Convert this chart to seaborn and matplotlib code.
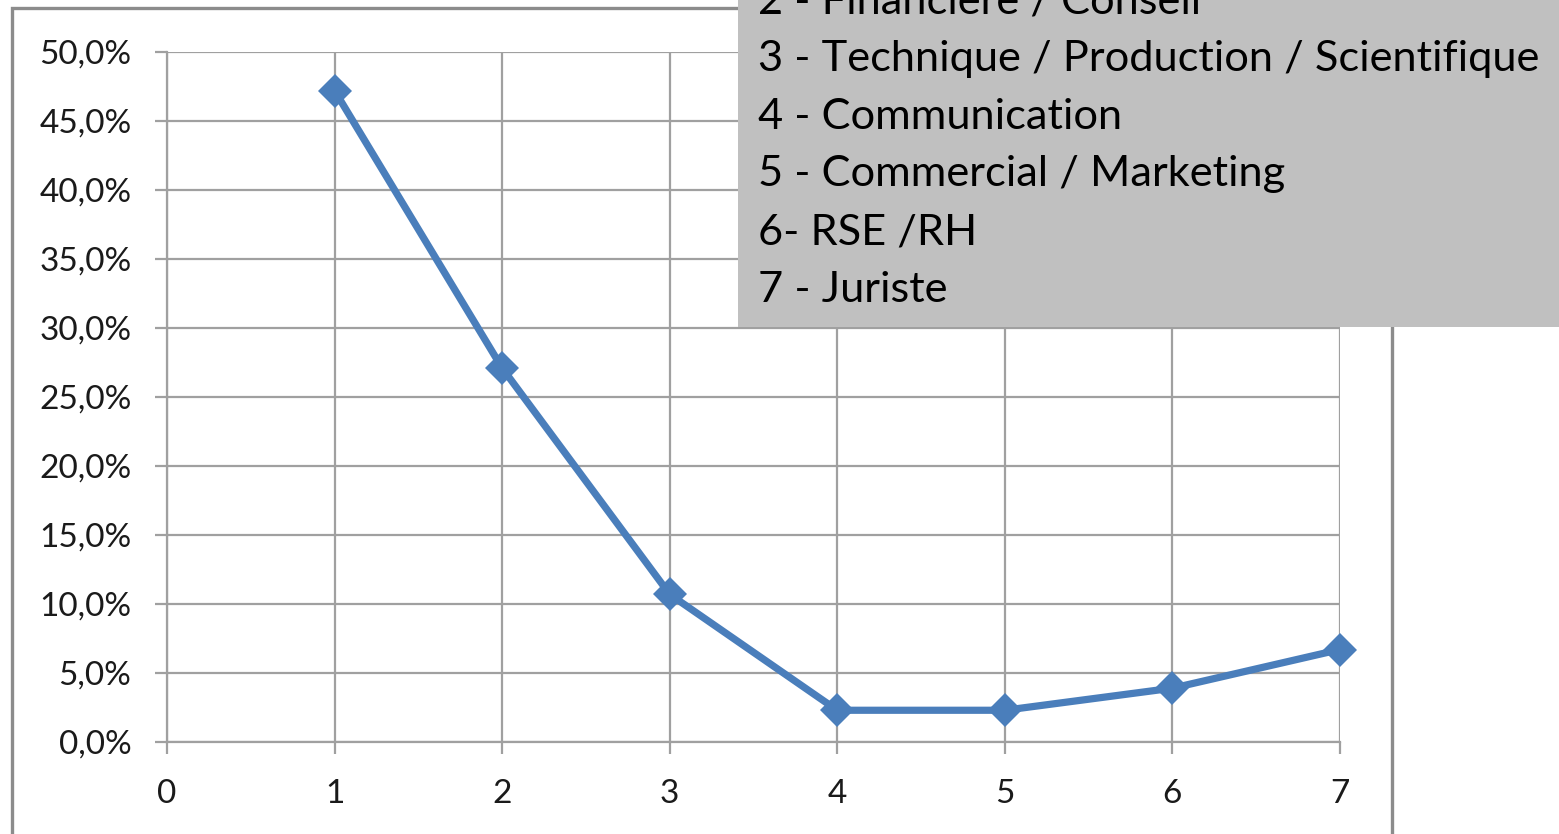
import matplotlib
matplotlib.use("Agg")
import matplotlib.pyplot as plt
import matplotlib.patches as patches
import matplotlib.ticker as mticker
import seaborn as sns
import pandas as pd

# valeurs
categories = [1, 2, 3, 4, 5, 6, 7]
pourcentages = [0.472, 0.271, 0.107, 0.023, 0.023, 0.039, 0.067]
legende = [
    "2 - Financière / Conseil",
    "3 - Technique / Production / Scientifique",
    "4 - Communication",
    "5 - Commercial / Marketing",
    "6- RSE /RH",
    "7 - Juriste",
]

df = pd.DataFrame({"cat": categories, "pct": pourcentages})

sns.set_style("white")
plt.rcParams["font.family"] = ["Lato", "DejaVu Sans"]

W, H = 1559, 834
fig = plt.figure(figsize=(W / 100, H / 100), dpi=100)
ax = fig.add_axes([167 / W, 1 - 742 / H, (1340 - 167) / W, (742 - 52) / H])

grid_col = "#A0A0A0"
sns.lineplot(data=df, x="cat", y="pct", ax=ax, color="#4A7EBB", linewidth=5.2,
             marker="D", markersize=17, markeredgewidth=0, clip_on=False, zorder=5)

ax.set_xlim(0, 7)
ax.set_ylim(0, 0.5)
ax.set_xticks(range(0, 8))
ax.set_yticks([i * 0.05 for i in range(11)])
ax.yaxis.set_major_formatter(mticker.FuncFormatter(lambda v, p: f"{v * 100:.1f}%".replace(".", ",")))
ax.grid(True, color=grid_col, linewidth=1.6)
for s in ["top", "right"]:
    ax.spines[s].set_visible(False)
for s in ["left", "bottom"]:
    ax.spines[s].set_color(grid_col)
    ax.spines[s].set_linewidth(1.6)
ax.tick_params(axis="both", direction="out", length=8.6, width=1.6, color=grid_col,
               labelsize=24, labelcolor="#1A1A1A", left=True, bottom=True)
ax.tick_params(axis="x", pad=18)
ax.tick_params(axis="y", pad=17)
ax.set_xlabel("")
ax.set_ylabel("")
ax.set_axisbelow(True)

# cadre de la zone de graphique
fig.patches.append(patches.Rectangle((12 / W, -0.05), (1392 - 12) / W, 1.05 - 8 / H,
                                     transform=fig.transFigure, fill=False,
                                     edgecolor="#8C8C8C", linewidth=2.4, zorder=0))

# encadré gris de la légende
fig.patches.append(patches.Rectangle((738 / W, 1 - 327 / H), 1 - 738 / W, 327 / H,
                                     transform=fig.transFigure, facecolor="#C0C0C0",
                                     edgecolor="none", zorder=10))
for i, t in enumerate(legende):
    y = 1 + 57.8 * i
    fig.text(758 / W, 1 - y / H, t, fontsize=31.2, va="center", ha="left",
             color="#000000", zorder=11)

fig.savefig("out.png", dpi=100)
